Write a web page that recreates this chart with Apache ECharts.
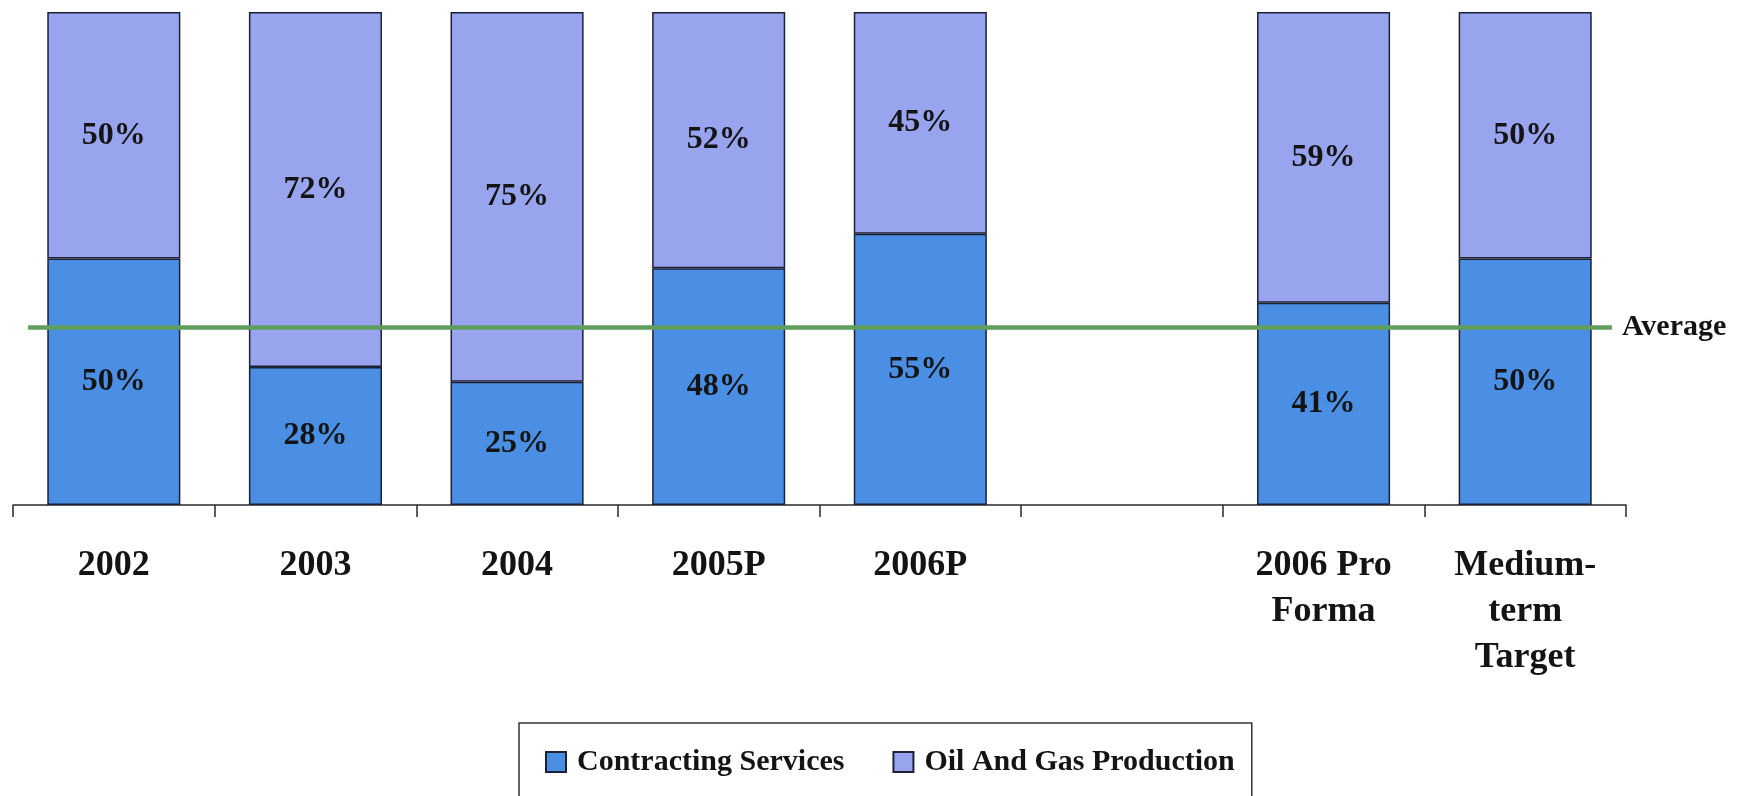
<!DOCTYPE html>
<html>
<head>
<meta charset="utf-8">
<script src="https://cdn.jsdelivr.net/npm/echarts@6/dist/echarts.min.js"></script>
<style>
  html, body { margin: 0; padding: 0; background: #ffffff; }
  #chart { width: 1750px; height: 796px; }
</style>
</head>
<body>
<div id="chart"></div>
<script>
const categories = ['2002', '2003', '2004', '2005P', '2006P', '', '2006 Pro\nForma', 'Medium-\nterm\nTarget'];
const contractingServices = [50, 28, 25, 48, 55, '-', 41, 50];
const oilAndGasProduction = [50, 72, 75, 52, 45, '-', 59, 50];
const averageValue = 36;
const averageLabel = 'Average';
const seriesNames = ['Contracting Services', 'Oil And Gas Production'];

const FONT = '"Liberation Serif", "Times New Roman", serif';
const BORDER = '#1c2138';

const chart = echarts.init(document.getElementById('chart'), null, { renderer: 'canvas' });

const labelStyle = {
  show: true,
  position: 'inside',
  formatter: p => p.value + '%',
  fontFamily: FONT,
  fontWeight: 'bold',
  fontSize: 32,
  color: '#141414'
};

chart.setOption({
  backgroundColor: '#ffffff',
  animation: false,
  grid: { left: 13, right: 124, top: 12, bottom: 291, containLabel: false },
  xAxis: [
    {
      type: 'category',
      data: categories,
      boundaryGap: true,
      axisLine: { show: true, lineStyle: { color: '#2a2a2a', width: 1.5 } },
      axisTick: { show: true, alignWithLabel: false, length: 12, lineStyle: { color: '#2a2a2a', width: 1.5 } },
      axisLabel: {
        interval: 0,
        margin: 38,
        fontFamily: FONT,
        fontWeight: 'bold',
        fontSize: 36,
        lineHeight: 46,
        color: '#141414',
        align: 'center'
      },
      splitLine: { show: false }
    },
    {
      type: 'value',
      min: 0,
      max: 8,
      show: false
    }
  ],
  yAxis: {
    type: 'value',
    min: 0,
    max: 100,
    show: false
  },
  legend: {
    data: seriesNames,
    left: 519,
    top: 723,
    orient: 'horizontal',
    itemWidth: 20,
    itemHeight: 20,
    itemGap: 48,
    padding: [24, 17, 60, 26],
    borderColor: '#333333',
    borderWidth: 1.5,
    icon: 'rect',
    textStyle: {
      fontFamily: FONT,
      fontWeight: 'bold',
      fontSize: 30,
      lineHeight: 30,
      color: '#141414',
      padding: [0, 0, 0, 6]
    }
  },
  series: [
    {
      name: seriesNames[0],
      type: 'bar',
      stack: 'total',
      barWidth: '66%',
      data: contractingServices,
      itemStyle: { color: '#4a8fe3', borderColor: BORDER, borderWidth: 1.5 },
      label: labelStyle
    },
    {
      name: seriesNames[1],
      type: 'bar',
      stack: 'total',
      barWidth: '66%',
      data: oilAndGasProduction,
      itemStyle: { color: '#98a4ee', borderColor: BORDER, borderWidth: 1.5 },
      label: labelStyle
    },
    {
      name: averageLabel,
      type: 'line',
      xAxisIndex: 1,
      data: [[0.075, averageValue], [7.93, averageValue]],
      symbol: 'none',
      lineStyle: { color: '#5f9e5c', width: 4.5 },
      z: 5,
      endLabel: {
        show: true,
        formatter: averageLabel,
        fontFamily: FONT,
        fontWeight: 'bold',
        fontSize: 30,
        color: '#141414',
        distance: 10
      }
    }
  ]
});
</script>
</body>
</html>
